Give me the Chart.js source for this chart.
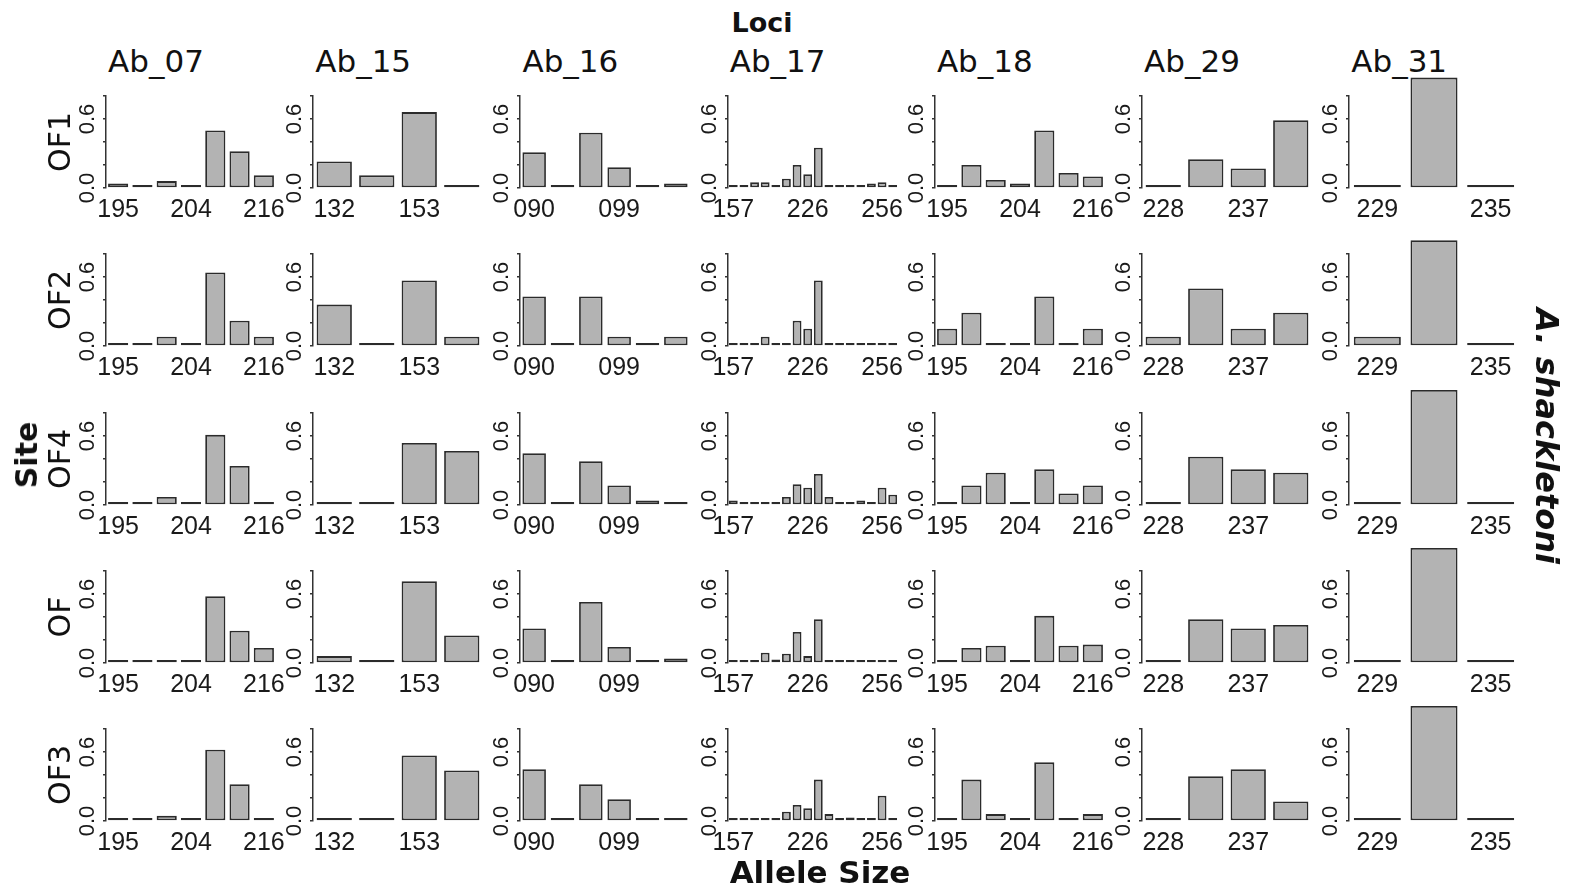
<!DOCTYPE html>
<html>
<head>
<meta charset="utf-8">
<script src="https://cdn.jsdelivr.net/npm/chart.js@4.4.1/dist/chart.umd.min.js"></script>
<style>
    html, body { margin: 0; padding: 0; background: #fff; }
    #fig { position: relative; width: 1574px; height: 893px; overflow: hidden; background: #fff; }
    #fig canvas { position: absolute; }
    .lbl { position: absolute; white-space: nowrap; line-height: 1; color: #111;
           font-family: "DejaVu Sans", sans-serif; transform: translate(-50%, -50%); }
    .bold { font-weight: bold; }
</style>
</head>
<body>
<div id="fig"></div>
<script>
const loci = ['Ab_07', 'Ab_15', 'Ab_16', 'Ab_17', 'Ab_18', 'Ab_29', 'Ab_31'];
const sites = ['OF1', 'OF2', 'OF4', 'OF', 'OF3'];

// allele sizes (bars) of each locus
const allelesAb07 = ['195', '198', '201', '204', '208', '212', '216'];
const allelesAb15 = ['132', '141', '153', '156'];
const allelesAb16 = ['090', '093', '096', '099', '102', '105'];
const allelesAb17 = ['157', '205', '208', '211', '214', '217', '220', '226', '229', '232', '235', '238', '241', '250', '256', '259'];
const allelesAb18 = ['195', '198', '201', '204', '208', '212', '216'];
const allelesAb29 = ['228', '231', '237', '240'];
const allelesAb31 = ['229', '232', '235'];

// allele sizes that get printed under the bars
const ticksAb07 = ['195', '204', '216'];
const ticksAb15 = ['132', '153'];
const ticksAb16 = ['090', '099'];
const ticksAb17 = ['157', '226', '256'];
const ticksAb18 = ['195', '204', '216'];
const ticksAb29 = ['228', '237'];
const ticksAb31 = ['229', '235'];

// y axis: tick positions and the ones that carry a label
const yTicks = [0, 0.2, 0.4, 0.6, 0.8];
const yTickLabels = ['0.0', '', '', '0.6', ''];

// allele frequencies, one row per site (OF1, OF2, OF4, OF, OF3)
const freqAb07 = [
    [0.04, 0, 0.06, 0, 0.5, 0.32, 0.11],
    [0, 0, 0.08, 0, 0.64, 0.22, 0.08],
    [0, 0, 0.07, 0, 0.61, 0.34, 0],
    [0, 0, 0, 0, 0.58, 0.28, 0.13],
    [0, 0.025, 0.045, 0, 0.62, 0.32, 0]
];
const freqAb15 = [
    [0.23, 0.11, 0.66, 0],
    [0.36, 0, 0.57, 0.08],
    [0, 0, 0.54, 0.47],
    [0.06, 0, 0.71, 0.24],
    [0, 0, 0.57, 0.44]
];
const freqAb16 = [
    [0.31, 0, 0.48, 0.18, 0, 0.04],
    [0.43, 0, 0.43, 0.08, 0, 0.08],
    [0.45, 0, 0.38, 0.17, 0.04, 0],
    [0.3, 0, 0.53, 0.14, 0, 0.04],
    [0.45, 0.025, 0.32, 0.19, 0.025, 0]
];
const freqAb17 = [
    [0, 0.01, 0.05, 0.05, 0, 0.08, 0.2, 0.12, 0.35, 0.02, 0, 0, 0.01, 0.04, 0.05, 0],
    [0, 0, 0, 0.08, 0, 0, 0.22, 0.15, 0.57, 0, 0, 0, 0, 0, 0, 0],
    [0.04, 0, 0, 0, 0, 0.07, 0.18, 0.15, 0.27, 0.07, 0, 0, 0.04, 0, 0.15, 0.09],
    [0, 0, 0, 0.09, 0.03, 0.08, 0.27, 0.06, 0.38, 0, 0, 0, 0, 0.02, 0.02, 0.02],
    [0, 0, 0.02, 0.02, 0, 0.08, 0.14, 0.11, 0.36, 0.06, 0, 0.03, 0, 0.02, 0.22, 0]
];
const freqAb18 = [
    [0.02, 0.2, 0.07, 0.04, 0.5, 0.13, 0.1],
    [0.15, 0.29, 0, 0, 0.43, 0, 0.15],
    [0, 0.17, 0.28, 0, 0.31, 0.1, 0.17],
    [0, 0.13, 0.15, 0, 0.41, 0.15, 0.16],
    [0, 0.36, 0.06, 0, 0.51, 0, 0.06]
];
const freqAb29 = [
    [0.02, 0.25, 0.17, 0.59],
    [0.08, 0.5, 0.15, 0.29],
    [0, 0.42, 0.31, 0.28],
    [0, 0.38, 0.3, 0.33],
    [0, 0.39, 0.45, 0.17]
];
const freqAb31 = [
    [0.02, 0.96, 0.02],
    [0.08, 0.92, 0],
    [0, 1, 0],
    [0, 1, 0],
    [0, 1, 0]
];

const allAlleles = [allelesAb07, allelesAb15, allelesAb16, allelesAb17, allelesAb18, allelesAb29, allelesAb31];
const allTicks = [ticksAb07, ticksAb15, ticksAb16, ticksAb17, ticksAb18, ticksAb29, ticksAb31];
const allFreqs = [freqAb07, freqAb15, freqAb16, freqAb17, freqAb18, freqAb29, freqAb31];

// panel geometry
const COL_X0 = 106, COL_STEP = 207.2;     // x of first y axis, column spacing
const ROW_Y0 = 188, ROW_STEP = 158.25;    // y of first baseline, row spacing
const PLOT_H = 92, PLOT_W = 170;
const PAD_TOP = 30, Y_AXIS_W = 34, X_AXIS_H = 40;
const CANVAS_W = 232;

const fig = document.getElementById('fig');

function add_label(text, x, y, size, cls, rotate) {
    const div = document.createElement('div');
    div.className = 'lbl ' + (cls || '');
    div.textContent = text;
    div.style.left = x + 'px';
    div.style.top = y + 'px';
    div.style.fontSize = size + 'px';
    if (rotate)
        div.style.transform = 'translate(-50%, -50%) rotate(' + rotate + 'deg)';
    fig.appendChild(div);
    return div;
}

function y_label(v) {
    for (let i = 0; i < yTicks.length; i++) {
        if (Math.abs(v - yTicks[i]) < 1e-6) return yTickLabels[i];
    }
    return '';
}

function draw_panel(col, row) {
    const axisX = COL_X0 + COL_STEP * col;
    const baseY = ROW_Y0 + ROW_STEP * row;
    const canvas = document.createElement('canvas');
    canvas.width = CANVAS_W;
    canvas.height = PAD_TOP + PLOT_H + X_AXIS_H;
    canvas.style.left = Math.round(axisX - Y_AXIS_W) + 'px';
    canvas.style.top = Math.round(baseY - PLOT_H - PAD_TOP) + 'px';
    fig.appendChild(canvas);

    const labels = allAlleles[col];
    const shown = allTicks[col];

    new Chart(canvas, {
        type: 'bar',
        data: {
            labels: labels,
            datasets: [{
                data: allFreqs[col][row],
                backgroundColor: '#b3b3b3',
                borderColor: '#2b2b2b',
                borderWidth: 1.8,
                borderSkipped: false,
                minBarLength: 3,
                barPercentage: 0.83,
                categoryPercentage: 1,
                clip: false
            }]
        },
        options: {
            responsive: false,
            animation: false,
            devicePixelRatio: 1,
            layout: {padding: {top: PAD_TOP, right: CANVAS_W - Y_AXIS_W - PLOT_W, left: 0, bottom: 0}},
            plugins: {legend: {display: false}, tooltip: {enabled: false}},
            scales: {
                x: {
                    grid: {display: false, drawTicks: false},
                    border: {display: false},
                    ticks: {
                        autoSkip: false, maxRotation: 0, minRotation: 0, padding: 7,
                        color: '#1a1a1a',
                        font: {family: 'Liberation Sans', size: 25},
                        callback: (v, i) => shown.includes(labels[i]) ? labels[i] : ''
                    },
                    afterFit: (s) => { s.height = X_AXIS_H; s.paddingLeft = 0; s.paddingRight = 0; }
                },
                y: {
                    min: 0, max: 0.8,
                    afterBuildTicks: (s) => { s.ticks = yTicks.map(v => ({value: v})); },
                    grid: {display: true, drawOnChartArea: false, drawTicks: true, tickLength: 3, color: '#333', lineWidth: 1.5},
                    border: {display: true, color: '#333', width: 1.5},
                    ticks: {
                        autoSkip: false, minRotation: 90, maxRotation: 90, crossAlign: 'center', padding: 0,
                        color: '#1a1a1a',
                        font: {family: 'Liberation Sans', size: 22},
                        callback: (v) => y_label(v)
                    },
                    afterFit: (s) => { s.width = Y_AXIS_W; }
                }
            }
        }
    });
}

for (let c = 0; c < loci.length; c++) {
    add_label(loci[c], COL_X0 + COL_STEP * c + 50, 61, 31);
    for (let r = 0; r < sites.length; r++) {
        draw_panel(c, r);
    }
}

for (let r = 0; r < sites.length; r++) {
    add_label(sites[r], 60, ROW_Y0 + ROW_STEP * r - PLOT_H / 2, 30, '', -90);
}

add_label('Loci', 762, 22, 27, 'bold');
add_label('Allele Size', 820, 872, 31, 'bold');
add_label('Site', 27, 455, 30, 'bold', -90);
const sp = add_label('A. shackletoni', 1547, 436, 32, 'bold', 90);
sp.style.fontStyle = 'italic';
</script>
</body>
</html>
